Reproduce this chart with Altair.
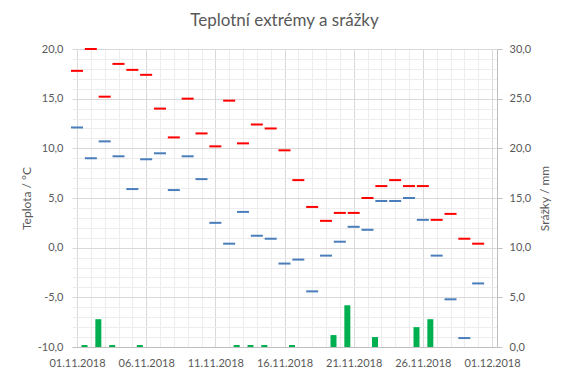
import altair as alt
import pandas as pd

# ---- data ----
days = [f"2018-11-{d:02d}" for d in range(1, 31)]
t_max = [17.8, 20.0, 15.2, 18.5, 17.9, 17.4, 14.0, 11.1, 15.0, 11.5,
         10.2, 14.8, 10.5, 12.4, 12.0, 9.8, 6.8, 4.1, 2.7, 3.5,
         3.5, 5.0, 6.2, 6.8, 6.2, 6.2, 2.8, 3.4, 0.9, 0.4]
t_min = [12.1, 9.0, 10.7, 9.2, 5.9, 8.9, 9.5, 5.8, 9.2, 6.9,
         2.5, 0.4, 3.6, 1.2, 0.9, -1.6, -1.2, -4.4, -0.8, 0.6,
         2.1, 1.8, 4.7, 4.7, 5.0, 2.8, -0.8, -5.2, -9.1, -3.6]
precip = [0.2, 2.8, 0.2, 0.0, 0.2, 0.0, 0.0, 0.0, 0.0, 0.0,
          0.0, 0.2, 0.2, 0.2, 0.0, 0.2, 0.0, 0.0, 1.2, 4.2,
          0.0, 1.0, 0.0, 0.0, 2.0, 2.8, 0.0, 0.0, 0.0, 0.0]
temp_ticks = list(range(-10, 21))
rain_ticks = [0, 5, 10, 15, 20, 25, 30]

temp_df = pd.DataFrame({
    "date": days * 2,
    "temp": t_max + t_min,
    "kind": ["max"] * len(days) + ["min"] * len(days),
})
rain_df = pd.DataFrame({"date": days, "rain": precip})

FONT = "Lato"
TXT = "#595959"
MAJOR = "#D9D9D9"
MINOR = "#EDEDED"
AXIS = "#BFBFBF"

x_start = alt.DateTime(year=2018, month=11, date=1, utc=True)
x_end = alt.DateTime(year=2018, month=12, date=1, utc=True)
x_vals = [alt.DateTime(year=2018, month=11, date=d, utc=True) for d in range(1, 31)] + [x_end]

xscale = alt.Scale(type="utc", domain=[x_start, x_end], nice=False)
major_x = "(utcdate(datum.value) - 1) % 5 === 0"
xaxis = alt.Axis(
    values=x_vals, grid=True,
    gridColor={"condition": {"test": major_x, "value": MAJOR}, "value": MINOR},
    labelExpr=f"{major_x} ? utcFormat(datum.value, '%d.%m.%Y') : ''",
    ticks=False, domainColor=AXIS, labelOverlap=False, labelFlush=False,
    labelPadding=10, labelColor=TXT, labelFontSize=11, labelFont=FONT, title=None,
)

yaxis_left = alt.Axis(
    orient="left", values=temp_ticks, grid=True,
    gridColor={"condition": {"test": "datum.value % 5 === 0", "value": MAJOR}, "value": MINOR},
    ticks=False, domain=False, labelOverlap=False, labelPadding=9,
    labelExpr="datum.value % 5 === 0 ? (datum.value < 0 ? '-' : '') + replace(format(abs(datum.value), '.1f'), '.', ',') : ''",
    labelColor=TXT, labelFontSize=11, labelFont=FONT,
    title="Teplota / °C", titleX=-46, titleY=149, titleAngle=270,
    titleBaseline="middle", titleAlign="center", titleFontWeight="normal",
    titleFontSize=12, titleColor=TXT, titleFont=FONT,
)

yaxis_right = alt.Axis(
    orient="right", values=rain_ticks, grid=False, ticks=True, tickSize=5,
    tickColor=AXIS, domainColor=AXIS, labelPadding=7, labelOverlap=False,
    labelExpr="replace(format(datum.value, '.1f'), '.', ',')",
    labelColor=TXT, labelFontSize=11, labelFont=FONT,
    title="Srážky / mm", titleX=47, titleY=149, titleAngle=270,
    titleBaseline="middle", titleAlign="center", titleFontWeight="normal",
    titleFontSize=12, titleColor=TXT, titleFont=FONT,
)

bars = alt.Chart(rain_df).mark_bar(width=6, xOffset=7.5, color="#00B050", opacity=1).encode(
    x=alt.X("date:T", scale=xscale, axis=xaxis),
    y=alt.Y("rain:Q", scale=alt.Scale(domain=[0, 30], nice=False), axis=yaxis_right),
)

ticks = alt.Chart(temp_df).mark_tick(orient="horizontal", size=12, thickness=2, opacity=1).encode(
    x=alt.X("date:T", scale=xscale, axis=xaxis),
    y=alt.Y("temp:Q", scale=alt.Scale(domain=[-10, 20], nice=False), axis=yaxis_left),
    color=alt.Color("kind:N", scale=alt.Scale(domain=["max", "min"], range=["#FF0000", "#4A7EBB"]), legend=None),
)

chart = (
    alt.layer(bars, ticks)
    .resolve_scale(y="independent")
    .properties(
        width=425, height=298,
        padding={"left": 64, "top": 41, "right": 62, "bottom": 20},
        autosize=alt.AutoSizeParams(type="none"),
        title=alt.TitleParams(
            "Teplotní extrémy a srážky", font=FONT, fontSize=17,
            fontWeight="normal", color=TXT, anchor="middle", offset=13,
        ),
    )
    .configure(font=FONT)
    .configure_view(strokeWidth=0)
)

chart.save("out.html", embed_options={"renderer": "svg", "actions": False})
